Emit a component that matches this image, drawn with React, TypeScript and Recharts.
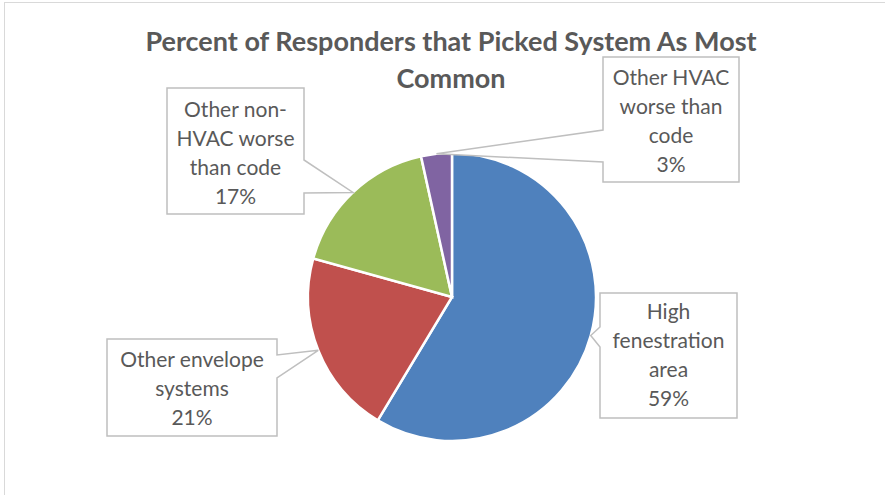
import React from "react"
import { PieChart, Pie, Cell } from "recharts"

// Number of responders per system (29 in total), shown as percent
const categories = [
  "High fenestration area",
  "Other envelope systems",
  "Other non-HVAC worse than code",
  "Other HVAC worse than code",
]
const responders = [17, 6, 5, 1]
// how each category name wraps inside its callout
const labelLines = [
  ["High", "fenestration", "area"],
  ["Other envelope", "systems"],
  ["Other non-", "HVAC worse", "than code"],
  ["Other HVAC", "worse than", "code"],
]
const colors = ["#4F81BD", "#C0504D", "#9BBB59", "#8064A2"]

const title = ["Percent of Responders that Picked System As Most", "Common"]

// callout boxes: position, size, which side the pointer sits on and where it meets the box
const callouts = [
  { x: 600, y: 293, w: 137, h: 125, side: "left", n1: 327, n2: 347, top: 319 },
  { x: 107, y: 339, w: 170, h: 97, side: "right", n1: 355, n2: 378, top: 367 },
  { x: 167, y: 88, w: 137, h: 126, side: "right", n1: 160, n2: 193, top: 117 },
  { x: 603, y: 57, w: 136, h: 125, side: "left", n1: 130, n2: 162, top: 85 },
]

const data = categories.map((name, i) => ({ name, value: responders[i] }))

const FONT = "Lato, 'Open Sans', sans-serif"
const RADIAN = Math.PI / 180

function calloutPath(b: (typeof callouts)[number], ax: number, ay: number) {
  const r = b.x + b.w
  const btm = b.y + b.h
  if (b.side === "left") {
    return `M${b.x},${b.y} L${r},${b.y} L${r},${btm} L${b.x},${btm} L${b.x},${b.n2} L${ax},${ay} L${b.x},${b.n1} Z`
  }
  return `M${b.x},${b.y} L${r},${b.y} L${r},${b.n1} L${ax},${ay} L${r},${b.n2} L${r},${btm} L${b.x},${btm} Z`
}

const renderLabel = (props: any) => {
  const { cx, cy, midAngle, outerRadius, index, percent } = props
  const b = callouts[index]
  const ax = cx + outerRadius * Math.cos(-midAngle * RADIAN)
  const ay = cy + outerRadius * Math.sin(-midAngle * RADIAN)
  const lines = [...labelLines[index], `${Math.round(percent * 100)}%`]
  const mid = b.x + b.w / 2
  return (
    <g key={`callout-${index}`}>
      <path d={calloutPath(b, ax, ay)} fill="#fff" stroke="#BFBFBF" strokeWidth={1.5} />
      {lines.map((t, i) => (
        <text
          key={i}
          x={mid}
          y={b.top + i * 29}
          textAnchor="middle"
          fontFamily={FONT}
          fontSize={21}
          fill="#595959"
        >
          {t}
        </text>
      ))}
    </g>
  )
}

export default function App() {
  return (
    <div style={{ position: "absolute", left: 0, top: 0, width: 885, height: 495, background: "#fff" }}>
      <svg width={885} height={495} style={{ position: "absolute", left: 0, top: 0 }}>
        <rect x={4.5} y={2.5} width={900} height={520} fill="none" stroke="#D9D9D9" strokeWidth={1} />
        {title.map((t, i) => (
          <text
            key={i}
            x={451}
            y={51 + i * 37}
            textAnchor="middle"
            fontFamily={FONT}
            fontWeight="bold"
            fontSize={27}
            fill="#595959"
          >
            {t}
          </text>
        ))}
      </svg>
      <div style={{ position: "absolute", left: 0, top: 0 }}>
        <PieChart width={885} height={495} margin={{ top: 0, right: 0, bottom: 0, left: 0 }}>
          <Pie
            data={data}
            dataKey="value"
            nameKey="name"
            cx={452}
            cy={297}
            outerRadius={144}
            startAngle={90}
            endAngle={-270}
            stroke="#fff"
            strokeWidth={2.5}
            label={renderLabel}
            labelLine={false}
            isAnimationActive={false}
          >
            {data.map((d, i) => (
              <Cell key={d.name} fill={colors[i]} />
            ))}
          </Pie>
        </PieChart>
      </div>
    </div>
  )
}
